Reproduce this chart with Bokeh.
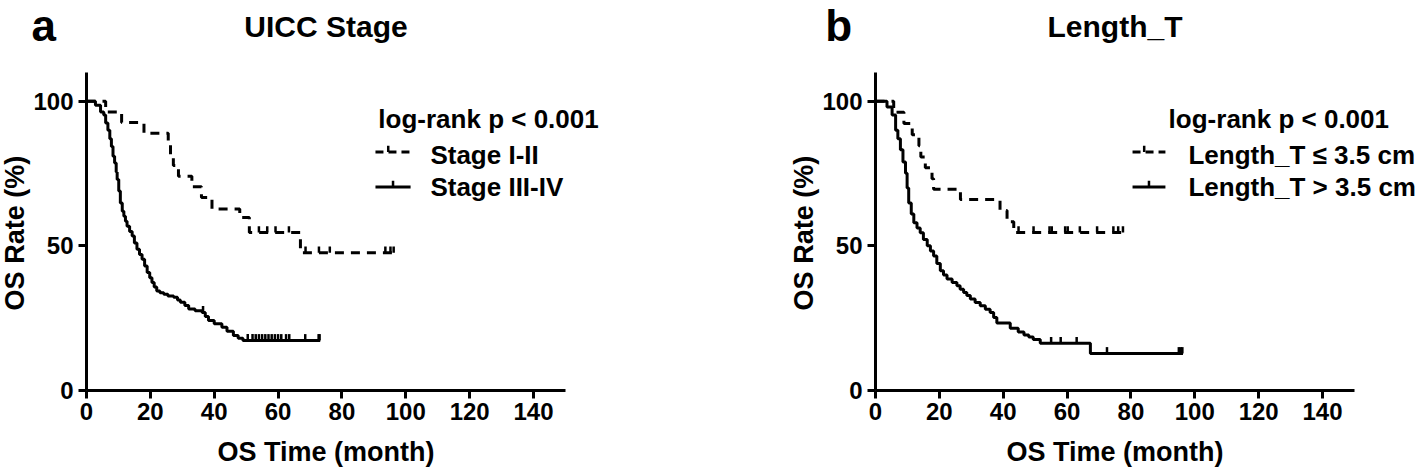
import numpy as np
from bokeh.plotting import figure
from bokeh.layouts import row
from bokeh.models import Range1d, FixedTicker, Label
from bokeh.embed import file_html
from bokeh.resources import INLINE

FONT = "Liberation Sans"

# ---------------- data ----------------
x_ticks = [0, 20, 40, 60, 80, 100, 120, 140]
y_ticks = [0, 50, 100]
x_axis_max = 150
y_axis_max = 110

# Panel a : UICC Stage
a_title = "UICC Stage"
a_names = ["Stage I-II", "Stage III-IV"]
a_s12_t = [6, 11, 18, 25.6, 26.3, 27.2, 28.8, 33, 36, 39.3, 48, 51, 67]
a_s12_s = [96.3, 92.6, 88.9, 85.2, 81.5, 77.8, 74.1, 70.4, 66.7, 62.7, 59.8, 54.6, 47.6]
a_s12_c = [54, 56.6, 59.2, 63.4, 68.6, 72.8, 76.2, 93.6, 95.2, 96.2]
a_s12_end = 96.5

a_s34_t = [2.8, 4.4, 5.4, 6.0, 6.7, 7.3, 7.8, 8.3, 8.8, 9.3, 9.6, 10.1, 10.6, 11.2,
           11.7, 12.2, 12.7, 13.5, 14.3, 15.0, 15.8, 16.6, 17.4, 18.2, 19.0, 19.8,
           20.5, 21.2, 22.0, 23.0, 24.2, 25.5, 27.3, 28.5, 29.4, 30.8, 32.0, 34.0,
           36.2, 37.2, 38.2, 40.0, 42.4, 44.0, 46.0, 47.5, 49.0]
a_s34_s = [98.6, 96.3, 95.2, 92.5, 90.0, 87.0, 84.3, 81.0, 78.6, 75.5, 72.9, 69.0,
           64.8, 62.0, 60.2, 58.5, 56.8, 55.0, 53.4, 51.0, 48.8, 47.0, 45.4, 43.0,
           40.8, 39.0, 37.3, 35.8, 34.4, 33.8, 33.3, 32.7, 32.2, 31.3, 30.5, 29.4,
           28.2, 27.6, 27.0, 25.6, 24.2, 23.1, 21.9, 20.5, 19.0, 18.1, 17.3]
a_s34_c = [36.5, 50.5, 52, 53, 54, 55, 56, 57, 58, 59, 60, 61, 62.5, 63.5, 68.5, 72.7, 73]
a_s34_end = 73.2

# Panel b : Length_T
b_title = "Length_T"
b_names = ["Length_T \u2264 3.5 cm", "Length_T > 3.5 cm"]
b_le_t = [5.7, 8.9, 11.5, 13.6, 14.2, 15.6, 17.7, 18.2, 26.6, 39.0, 41.2, 43.3]
b_le_s = [96.2, 92.3, 88.4, 84.6, 80.7, 77.0, 73.2, 69.6, 66.0, 62.2, 58.3, 54.6]
b_le_c = [44.8, 49.5, 54.5, 55.2, 59.4, 60.2, 64, 69.4, 74.5, 76, 77.5]
b_le_end = 78

b_gt_t = [3.6, 5.2, 6.3, 7.0, 7.8, 8.6, 9.4, 9.9, 10.4, 11.2, 12.0, 13.0, 14.0, 15.0,
          16.2, 17.2, 18.2, 19.2, 20.3, 21.3, 22.4, 24.0, 25.5, 26.5, 27.6, 28.6,
          29.7, 31.2, 32.8, 34.4, 35.9, 37.0, 38.0, 42.2, 44.7, 46.5, 48.0, 49.4,
          51.6, 67.3]
b_gt_s = [98.0, 95.2, 90.0, 87.0, 83.2, 79.0, 75.1, 70.0, 64.8, 61.0, 58.0, 56.2,
          54.5, 52.2, 50.0, 48.2, 46.5, 43.9, 41.4, 39.9, 38.5, 37.3, 36.2, 35.0,
          33.9, 32.8, 31.6, 30.4, 29.3, 28.1, 27.0, 25.2, 23.3, 21.5, 20.2, 19.2,
          18.5, 17.6, 16.3, 12.8]
b_gt_c = [55, 58, 63, 72.5, 95, 95.6, 96.1]
b_gt_end = 96.3

pvalue_text = "log-rank p < 0.001"
x_label_text = "OS Time (month)"
y_label_text = "OS Rate (%)"


def step_xy(times, surv, end):
    xs, ys = [0.0], [100.0]
    cur = 100.0
    for t, s in zip(times, surv):
        xs += [t, t]
        ys += [cur, s]
        cur = s
    xs.append(end)
    ys.append(cur)
    return xs, ys


def surv_at(times, surv, t):
    cur = 100.0
    for tt, s in zip(times, surv):
        if tt <= t:
            cur = s
    return cur


DASH = "9 7"
LW = 3
PX_X = 3.193   # pixels per month
PX_Y = 2.893   # pixels per percent
FIG_H = 469
ORIGIN_Y = 390  # canvas y of the x axis


def draw_curve(p, times, surv, cens, end, dashed):
    xs, ys = step_xy(times, surv, end)
    kw = dict(line_width=LW, line_color="black", line_cap="butt")
    if dashed:
        p.line(xs, ys, line_dash=DASH, **kw)
    else:
        p.line(xs, ys, **kw)
    cy = [surv_at(times, surv, c) for c in cens]
    p.segment(x0=cens, y0=cy, x1=cens, y1=[v + 2.2 for v in cy],
              line_width=2.5, line_color="black")


def make_fig(width, origin_x):
    # frame covers the whole canvas; axes are placed at the data origin
    xr = Range1d(-origin_x / PX_X, (width - origin_x) / PX_X)
    yr = Range1d(-(FIG_H - ORIGIN_Y) / PX_Y, ORIGIN_Y / PX_Y)
    p = figure(width=width, height=FIG_H, output_backend="svg", toolbar_location=None,
               x_range=xr, y_range=yr,
               min_border=0, min_border_left=0, min_border_right=0,
               min_border_top=0, min_border_bottom=0)
    p.outline_line_color = None
    p.xgrid.grid_line_color = None
    p.ygrid.grid_line_color = None
    p.background_fill_color = "white"
    p.border_fill_color = "white"
    p.xaxis.fixed_location = 0
    p.yaxis.fixed_location = 0
    p.xaxis.bounds = (0, x_axis_max)
    p.yaxis.bounds = (0, y_axis_max)
    for ax, ticks in ((p.xaxis, x_ticks), (p.yaxis, y_ticks)):
        ax.ticker = FixedTicker(ticks=ticks)
        ax.axis_line_width = 3
        ax.axis_line_color = "black"
        ax.major_tick_line_width = 3
        ax.major_tick_line_color = "black"
        ax.major_tick_out = 8
        ax.major_tick_in = 0
        ax.minor_tick_line_color = None
        ax.major_label_text_font = FONT
        ax.major_label_text_font_size = "24px"
        ax.major_label_text_font_style = "bold"
        ax.major_label_text_color = "black"
    p.xaxis.major_label_standoff = 4
    p.yaxis.major_label_standoff = 5
    return p


def add_label(p, x, y, text, size, align="left", angle=0.0):
    p.add_layout(Label(x=x, y=y, text=text, text_font=FONT, text_font_size=size,
                       text_font_style="bold", text_color="black",
                       text_align=align, text_baseline="alphabetic", angle=angle))


def add_legend(p, x_sym0, x_sym1, x_text, x_p, names):
    add_label(p, x_p, 94.0, pvalue_text, "26px")
    xm = (x_sym0 + x_sym1) / 2
    # dashed sample with a censor tick
    p.line([x_sym0, x_sym1], [82.4, 82.4], line_width=LW, line_color="black",
           line_dash="8 5", line_cap="butt")
    p.segment(x0=[xm - 1.5], y0=[82.4], x1=[xm - 1.5], y1=[84.6], line_width=2.5,
              line_color="black")
    # solid sample with a censor tick
    p.line([x_sym0, x_sym1], [70.3, 70.3], line_width=LW, line_color="black")
    p.segment(x0=[xm], y0=[70.3], x1=[xm], y1=[72.5], line_width=2.5,
              line_color="black")
    add_label(p, x_text, 81.3, names[0], "26px")
    add_label(p, x_text, 70.5, names[1], "26px")


def decorate(p, letter, letter_x, title):
    add_label(p, letter_x, 126.3, letter, "44px")
    add_label(p, 75.0, 125.8, title, "30px", align="center")
    add_label(p, 75.0, -21.3, x_label_text, "27px", align="center")
    add_label(p, -22.5, 54.4, y_label_text, "27px", align="center", angle=np.pi / 2)


# ---------------- panel a ----------------
pa = make_fig(708, 86)
draw_curve(pa, a_s12_t, a_s12_s, a_s12_c, a_s12_end, True)
draw_curve(pa, a_s34_t, a_s34_s, a_s34_c, a_s34_end, False)
add_legend(pa, 90.5, 101.5, 107.7, 91.4, a_names)
decorate(pa, "a", -17.2, a_title)

# ---------------- panel b ----------------
pb = make_fig(710, 875 - 708)
draw_curve(pb, b_le_t, b_le_s, b_le_c, b_le_end, True)
draw_curve(pb, b_gt_t, b_gt_s, b_gt_c, b_gt_end, False)
add_legend(pb, 80.5, 90.8, 98.0, 91.8, b_names)
decorate(pb, "b", -15.7, b_title)

layout = row(pa, pb)
open("out.html", "w").write(file_html(layout, INLINE))
